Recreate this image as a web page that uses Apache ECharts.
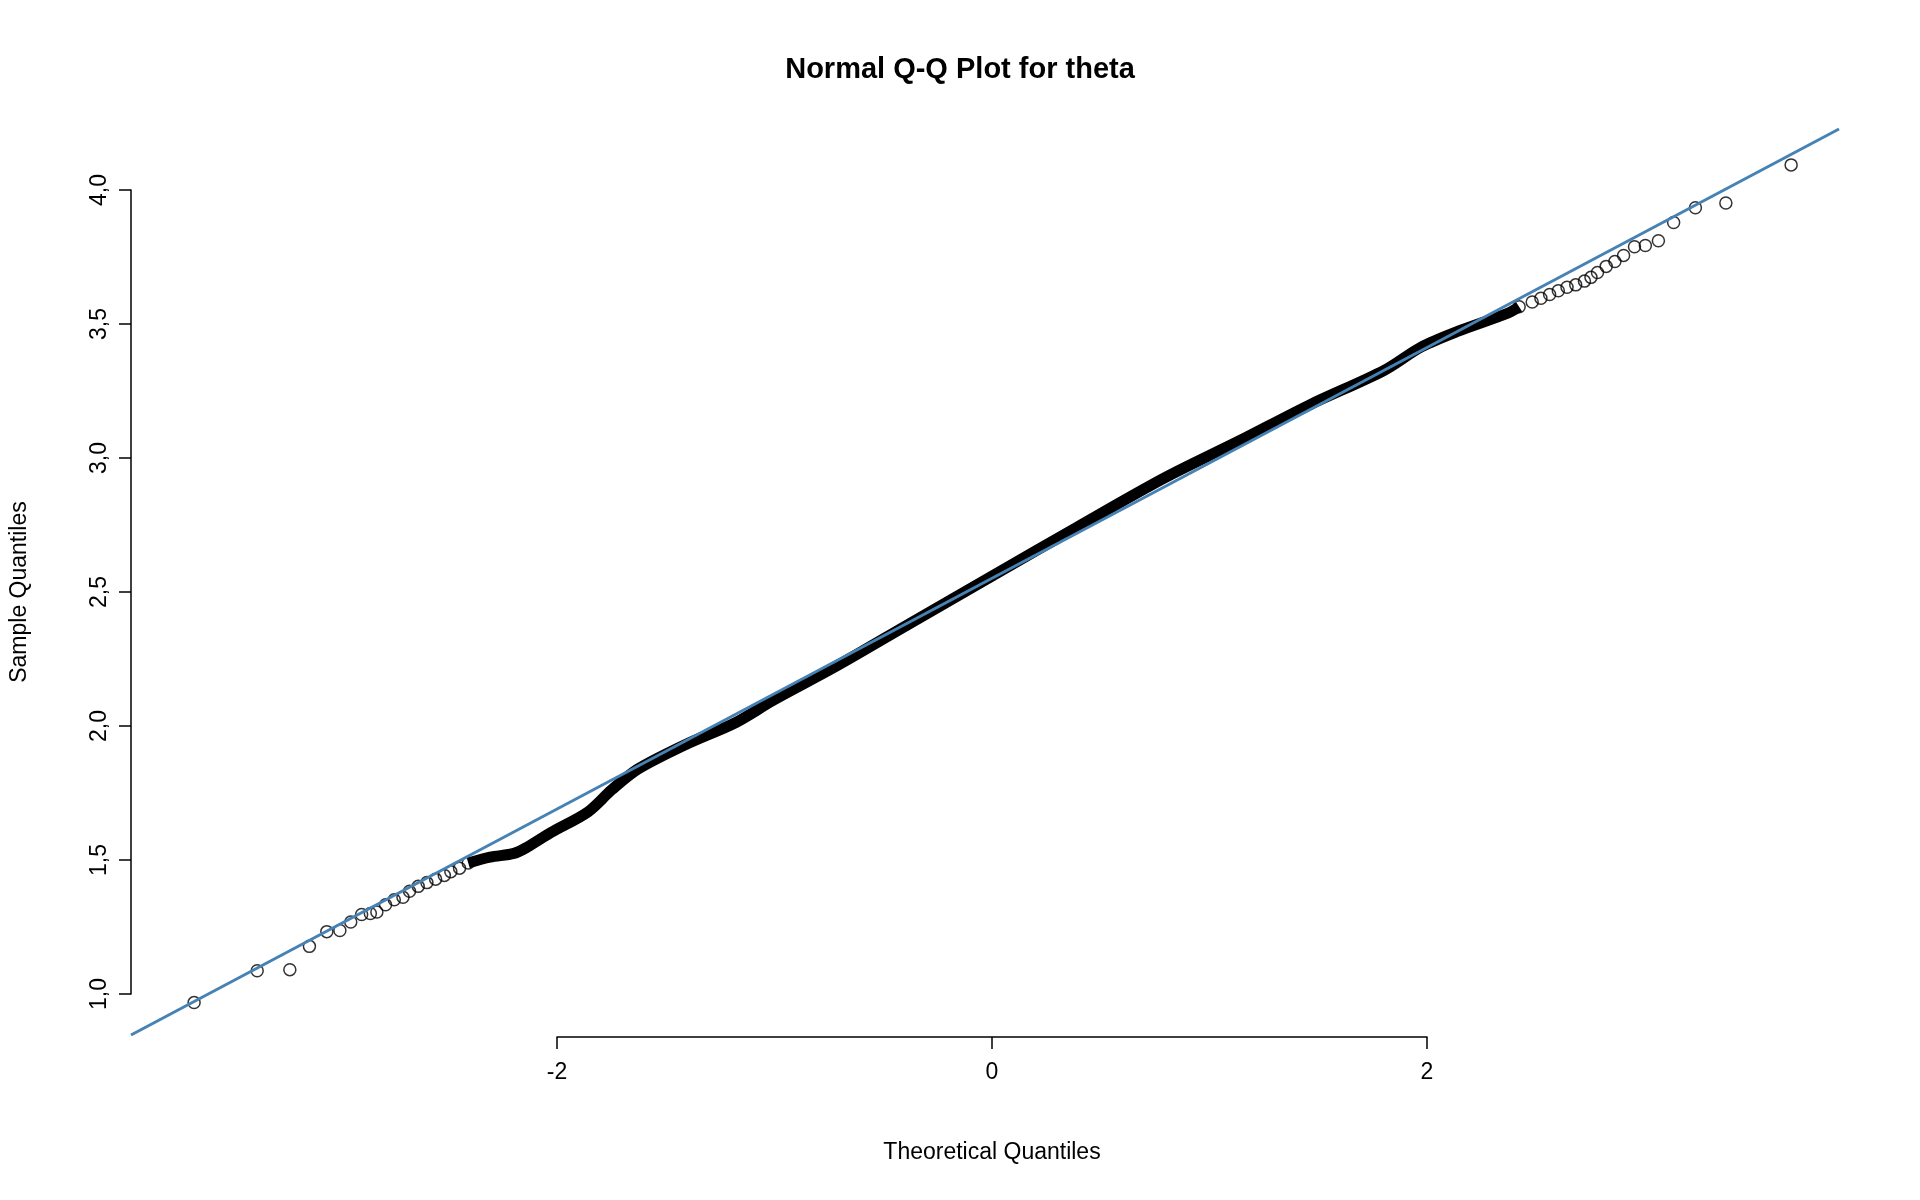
<!DOCTYPE html>
<html><head><meta charset="utf-8">
<script src="https://cdn.jsdelivr.net/npm/echarts@6/dist/echarts.min.js"></script>
<style>html,body{margin:0;padding:0;background:#fff}#c{width:1920px;height:1200px}</style>
</head><body><div id="c"></div>
<script>
// Sample points: [theoretical, sample]
const lowerTail = [[-3.67,0.968],[-3.38,1.087],[-3.23,1.091],[-3.14,1.178],[-3.06,1.233],[-3.00,1.237],[-2.95,1.269],[-2.90,1.297],[-2.86,1.301],[-2.83,1.306],[-2.79,1.333],[-2.75,1.352],[-2.71,1.361],[-2.68,1.384],[-2.64,1.402],[-2.60,1.416],[-2.56,1.429],[-2.52,1.443],[-2.49,1.457],[-2.45,1.470],[-2.41,1.489]];
const denseBody = [[-2.41,1.489],[-2.31,1.511],[-2.20,1.525],[-2.14,1.548],[-2.03,1.603],[-1.86,1.680],[-1.75,1.763],[-1.63,1.840],[-1.41,1.932],[-1.18,2.014],[-1.01,2.096],[-0.73,2.219],[-0.39,2.379],[0,2.562],[0.39,2.744],[0.79,2.927],[1.13,3.064],[1.46,3.201],[1.80,3.329],[1.97,3.416],[2.14,3.475],[2.37,3.543],[2.42,3.566]];
const upperTail = [[2.42,3.566],[2.48,3.584],[2.52,3.598],[2.56,3.612],[2.60,3.626],[2.64,3.639],[2.68,3.648],[2.72,3.662],[2.75,3.676],[2.78,3.694],[2.82,3.717],[2.86,3.735],[2.90,3.758],[2.95,3.790],[3.00,3.795],[3.06,3.813],[3.13,3.881],[3.23,3.936],[3.37,3.954],[3.67,4.096]];
const refLine = [[-3.96,0.847],[3.89,4.230]];
const xTicks = [-2,0,2];
const yTicks = [1.0,1.5,2.0,2.5,3.0,3.5,4.0];

const F = 'Liberation Sans, Arial, sans-serif';
const chart = echarts.init(document.getElementById('c'));
chart.setOption({
  backgroundColor:'#fff',
  animation:false,
  title:{text:'Normal Q-Q Plot for theta',left:'center',top:50,textStyle:{fontFamily:F,fontSize:29,fontWeight:'bold',color:'#000'}},
  grid:[
    {left:131,right:81,top:129,bottom:165},
    {left:557,right:493,top:1000,bottom:163},
    {left:131,width:10,top:190,bottom:206}
  ],
  xAxis:[
    {gridIndex:0,type:'value',min:-3.96,max:3.89,show:false},
    {gridIndex:1,type:'value',min:xTicks[0],max:xTicks[xTicks.length-1],interval:2,position:'bottom',
     axisLine:{show:true,lineStyle:{color:'#000',width:1.5}},axisTick:{show:true,length:12,lineStyle:{color:'#000',width:1.5}},
     axisLabel:{fontFamily:F,fontSize:23,color:'#000',margin:24},splitLine:{show:false},
     name:'Theoretical Quantiles',nameLocation:'middle',nameGap:104,nameTextStyle:{fontFamily:F,fontSize:23,color:'#000'}},
    {gridIndex:2,type:'value',show:false,min:0,max:1}
  ],
  yAxis:[
    {gridIndex:0,type:'value',min:0.847,max:4.23,show:false},
    {gridIndex:1,type:'value',show:false,min:0,max:1},
    {gridIndex:2,type:'value',min:yTicks[0],max:yTicks[yTicks.length-1],interval:0.5,position:'left',
     axisLine:{show:true,lineStyle:{color:'#000',width:1.5}},axisTick:{show:true,length:12,lineStyle:{color:'#000',width:1.5}},
     axisLabel:{fontFamily:F,fontSize:23,color:'#000',margin:20,rotate:90,formatter:v=>v.toFixed(1).replace('.',',')},
     splitLine:{show:false},
     name:'Sample Quantiles',nameLocation:'middle',nameGap:100,nameTextStyle:{fontFamily:F,fontSize:23,color:'#000'}}
  ],
  series:[
    {type:'line',xAxisIndex:0,yAxisIndex:0,data:denseBody,showSymbol:false,smooth:0.3,
     lineStyle:{color:'#000',width:11},z:2},
    {type:'scatter',xAxisIndex:0,yAxisIndex:0,data:lowerTail.concat(upperTail),symbol:'circle',symbolSize:12,
     itemStyle:{color:'rgba(0,0,0,0)',borderColor:'#000',borderWidth:1.5},z:3},
    {type:'line',xAxisIndex:0,yAxisIndex:0,data:refLine,showSymbol:false,
     lineStyle:{color:'#4682B4',width:3},z:4}
  ]
});
</script></body></html>
